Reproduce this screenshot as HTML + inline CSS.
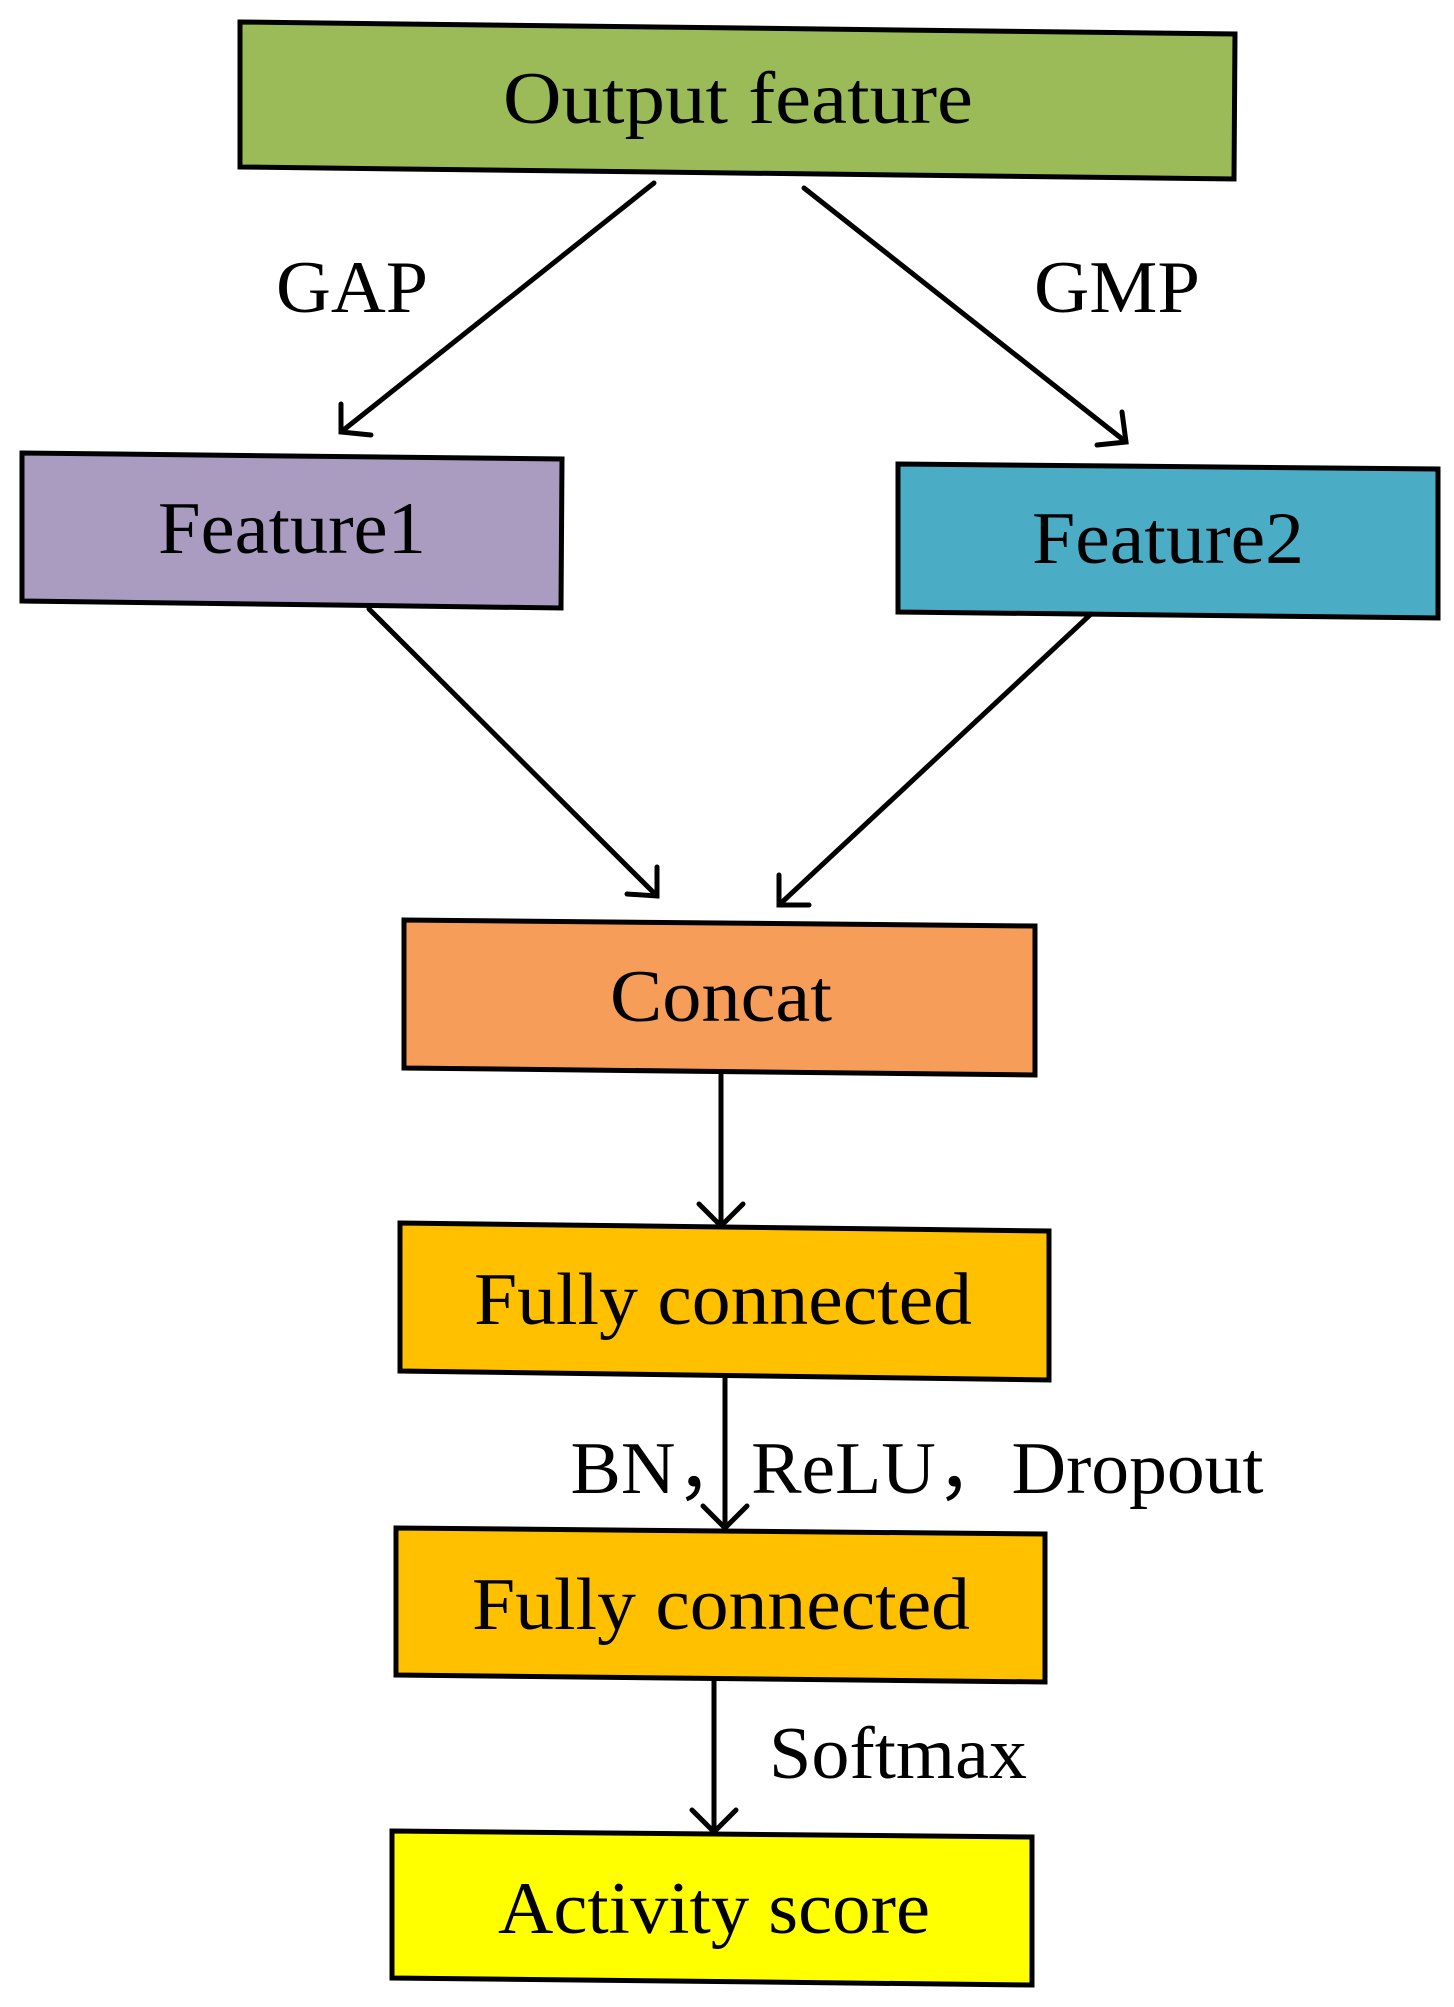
<!DOCTYPE html>
<html><head><style>html,body{margin:0;padding:0;background:#fff}svg{display:block}</style></head>
<body>
<svg width="1454" height="2007" viewBox="0 0 1454 2007" xmlns="http://www.w3.org/2000/svg" font-family="'Liberation Serif', serif" font-size="74" text-anchor="middle">
<g stroke="#000" stroke-width="5">
<polygon points="240,22 1235,34 1234,179 240,167" fill="#9bbb59"/>
<polygon points="22,453 562,459 561,608 22,601" fill="#aa9bc0"/>
<polygon points="898,464 1438,469 1438,618 898,612" fill="#4bacc6"/>
<polygon points="404,920 1035,926 1035,1075 404,1068" fill="#f79d5a"/>
<polygon points="400,1223 1049,1231 1049,1380 400,1371" fill="#ffc000"/>
<polygon points="396,1528 1045,1534 1045,1682 396,1675" fill="#ffc000"/>
<polygon points="392,1831 1032,1837 1032,1985 392,1978" fill="#ffff00"/>
</g>
<g stroke="#000" stroke-width="5" fill="none" stroke-linecap="round">
<line x1="654" y1="183" x2="341" y2="432"/><polyline points="341,404 341,432 371,435"/>
<line x1="804" y1="188" x2="1126" y2="442"/><polyline points="1122,412 1126,442 1097,445"/>
<line x1="369" y1="609" x2="657" y2="896"/><polyline points="657,867 657,896 627,894"/>
<line x1="1091" y1="614" x2="779" y2="905"/><polyline points="779,875 779,905 809,905"/>
<line x1="721" y1="1075" x2="721" y2="1226"/><polyline points="699,1204 721,1226 743,1204"/>
<line x1="725" y1="1377" x2="725" y2="1528"/><polyline points="703,1506 725,1528 747,1506"/>
<line x1="714" y1="1681" x2="714" y2="1832"/><polyline points="692,1810 714,1832 736,1810"/>
</g>
<g fill="#000" dominant-baseline="central">
<text x="738" y="99" textLength="470" lengthAdjust="spacingAndGlyphs">Output feature</text>
<text x="292" y="529" textLength="268" lengthAdjust="spacingAndGlyphs">Feature1</text>
<text x="1168" y="539" textLength="272" lengthAdjust="spacingAndGlyphs">Feature2</text>
<text x="721" y="997" textLength="222" lengthAdjust="spacingAndGlyphs">Concat</text>
<text x="723" y="1300" textLength="498" lengthAdjust="spacingAndGlyphs">Fully connected</text>
<text x="721" y="1605" textLength="498" lengthAdjust="spacingAndGlyphs">Fully connected</text>
<text x="714" y="1909" textLength="432" lengthAdjust="spacingAndGlyphs">Activity score</text>
<text x="352" y="288" textLength="152" lengthAdjust="spacingAndGlyphs">GAP</text>
<text x="1117" y="288" textLength="166" lengthAdjust="spacingAndGlyphs">GMP</text>
<text x="917" y="1469" textLength="693" lengthAdjust="spacingAndGlyphs">BN，ReLU，Dropout</text>
<text x="898" y="1754" textLength="258" lengthAdjust="spacingAndGlyphs">Softmax</text>
</g>
</svg>
</body></html>
